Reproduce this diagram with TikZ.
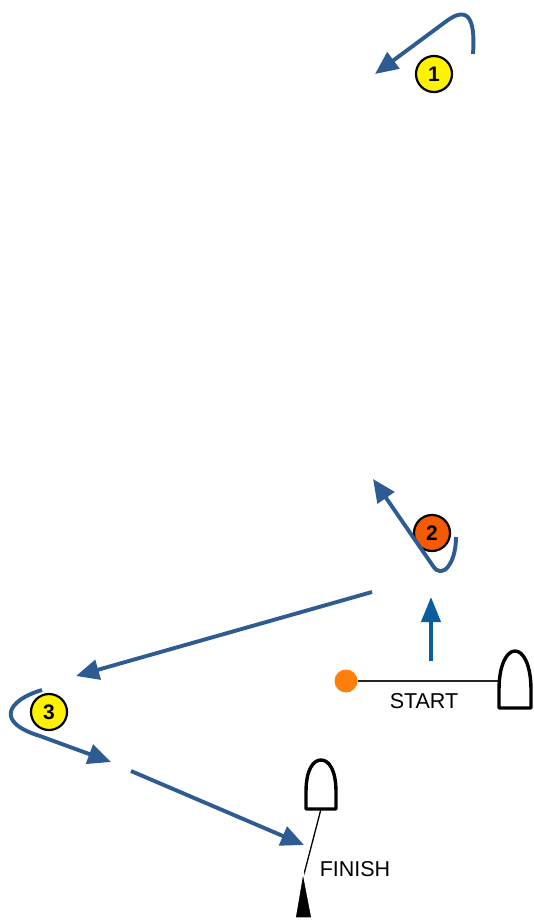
\documentclass[tikz,border=0pt]{standalone}
\usepackage{fontspec}
\setmainfont{Liberation Sans}
\usetikzlibrary{arrows.meta}
\definecolor{course}{HTML}{2E5C92}
\definecolor{startblue}{HTML}{0B5C9E}
\definecolor{dotorange}{HTML}{FF7F0A}
\definecolor{marktwo}{HTML}{F55A00}
\begin{document}
\begin{tikzpicture}[x=1pt,y=-1pt,
  leg/.style={draw=course,line width=3.9pt,-{Triangle[length=23pt,width=20pt]}},
  rounding/.style={circle,draw=black,line width=2.2pt,minimum size=36pt,inner sep=0pt,font=\bfseries\fontsize{21}{21}\selectfont},
  buoy/.style={draw=black,line width=3.4pt,fill=white,line join=round},
  lbl/.style={font=\fontsize{21.5}{21.5}\selectfont,inner sep=0pt}]
\useasboundingbox (0,0) rectangle (534,920);

% rounding marks
\node[rounding,fill=yellow] (m1) at (434,74) {1};
\node[rounding,fill=marktwo] (m2) at (432,533) {2};
\node[rounding,fill=yellow] (m3) at (49,712) {3};

% course coordinates
\coordinate (a1s) at (473,54);
\coordinate (a1b) at (448,20);
\coordinate (a1t) at (375,74);
\coordinate (a2s) at (456,537);
\coordinate (a2b) at (433,566);
\coordinate (a2t) at (373,479);
\coordinate (l3s) at (372,592);
\coordinate (l3t) at (76,676);
\coordinate (a3s) at (42,690);
\coordinate (a3b) at (40,736);
\coordinate (a3t) at (111,762);
\coordinate (l4s) at (131,771);
\coordinate (l4t) at (304,845);
\coordinate (sas) at (431,661);
\coordinate (sat) at (431,597);

% legs
\draw[leg] (a1s) .. controls (475,25) and (471,4) .. (a1b) -- (a1t);
\draw[leg] (a2s) .. controls (456,564) and (442,580) .. (a2b) -- (a2t);
\draw[leg] (l3s) -- (l3t);
\draw[leg] (a3s) .. controls (8,700) and (-6,722) .. (a3b) -- (a3t);
\draw[leg] (l4s) -- (l4t);
\draw[draw=startblue,line width=4.2pt,-{Triangle[length=25pt,width=19pt]}] (sas) -- (sat);

% start line
\node[circle,fill=dotorange,minimum size=23pt,inner sep=0pt] (pin) at (346,681) {};
\coordinate (sb) at (499,681);
\draw[black!85,line width=1.7pt] (pin) -- (sb);
\draw[buoy] (499,708) -- (499,690) .. controls (499,664) and (507,651) .. (515,651)
  .. controls (523,651) and (531,664) .. (531,690) -- (531,708) -- cycle;
\node[lbl] (start) at (424,701) {START};

% finish line
\coordinate (fb) at (321,809);
\coordinate (fp) at (303,878);
\draw[black,line width=1.3pt] (fb) -- (fp);
\draw[buoy] (306,809) -- (306,792) .. controls (306,770) and (313,760) .. (321,760)
  .. controls (329,760) and (336,770) .. (336,792) -- (336,809) -- cycle;
\fill[black,draw=white,line width=1.5pt] (303,871) -- (312,918) -- (295,918) -- cycle;
\node[lbl] (finish) at (355,869) {FINISH};
\end{tikzpicture}
\end{document}
